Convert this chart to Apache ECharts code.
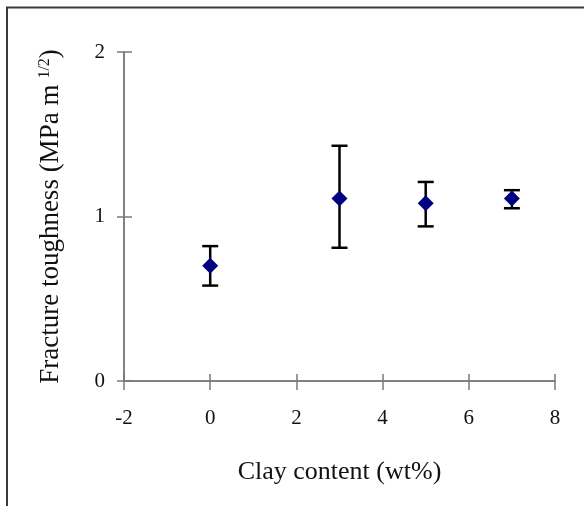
<!DOCTYPE html>
<html>
<head>
<meta charset="utf-8">
<script src="https://cdn.jsdelivr.net/npm/echarts@6/dist/echarts.min.js"></script>
<style>
  html, body { margin: 0; padding: 0; background: #fff; }
  #chart { width: 584px; height: 506px; }
</style>
</head>
<body>
<div id="chart"></div>
<script>
// clay content (wt%) and fracture toughness (MPa m^1/2)
const clay = [0, 3, 5, 7];
const toughness = [0.70, 1.11, 1.08, 1.11];
const errLow = [0.58, 0.81, 0.94, 1.05];
const errHigh = [0.82, 1.43, 1.21, 1.16];

const font = "'Liberation Serif', 'Times New Roman', serif";
const axisGray = "#7a7a7a";

const chart = echarts.init(document.getElementById("chart"));

// ticks cross the axis line, so each axis is drawn twice
// (outside ticks + labels, then inside ticks only)
const xBase = {
  type: "value",
  min: -2,
  max: 8,
  interval: 2,
  position: "bottom",
  splitLine: { show: false },
  axisLine: { onZero: false, lineStyle: { color: axisGray, width: 1.5 } },
};
const yBase = {
  type: "value",
  min: 0,
  max: 2,
  interval: 1,
  position: "left",
  splitLine: { show: false },
  axisLine: { onZero: false, lineStyle: { color: axisGray, width: 1.5 } },
};

let option = {
  animation: false,
  backgroundColor: "#fff",
  grid: { left: 124, right: 29, top: 52, bottom: 125 },
  graphic: [
    {
      type: "rect",
      shape: { x: 7, y: 7.5, width: 700, height: 700 },
      style: { fill: "none", stroke: "#3a3a3a", lineWidth: 2 },
      silent: true,
    },
  ],
  xAxis: [
    {
      ...xBase,
      name: "Clay content (wt%)",
      nameLocation: "middle",
      nameGap: 78,
      nameTextStyle: { fontFamily: font, fontSize: 26, color: "#111" },
      axisTick: { inside: false, length: 9, lineStyle: { color: axisGray, width: 1.5 } },
      axisLabel: { margin: 27, fontFamily: font, fontSize: 21, color: "#111" },
    },
    {
      ...xBase,
      axisTick: { inside: true, length: 7, lineStyle: { color: axisGray, width: 1.5 } },
      axisLabel: { show: false },
    },
  ],
  yAxis: [
    {
      ...yBase,
      name: "Fracture toughness (MPa m{sup|1/2})",
      nameLocation: "middle",
      nameRotate: 90,
      nameGap: 60,
      nameTextStyle: {
        fontFamily: font,
        fontSize: 27,
        color: "#111",
        rich: {
          sup: { fontFamily: font, fontSize: 16, color: "#111", verticalAlign: "top", padding: [0, 0, 10, 6] },
        },
      },
      axisTick: { inside: false, length: 7, lineStyle: { color: axisGray, width: 1.5 } },
      axisLabel: { margin: 19, fontFamily: font, fontSize: 21, color: "#111" },
    },
    {
      ...yBase,
      axisTick: { inside: true, length: 8, lineStyle: { color: axisGray, width: 1.5 } },
      axisLabel: { show: false },
    },
  ],
  series: [
    {
      // error bars
      type: "custom",
      z: 2,
      data: clay.map((c, i) => [c, errLow[i], errHigh[i]]),
      renderItem: function (params, api) {
        const lo = api.coord([api.value(0), api.value(1)]);
        const hi = api.coord([api.value(0), api.value(2)]);
        const cap = 8;
        const st = { stroke: "#000", lineWidth: 2.5 };
        return {
          type: "group",
          children: [
            { type: "line", shape: { x1: lo[0], y1: lo[1], x2: hi[0], y2: hi[1] }, style: st },
            { type: "line", shape: { x1: lo[0] - cap, y1: lo[1], x2: lo[0] + cap, y2: lo[1] }, style: st },
            { type: "line", shape: { x1: hi[0] - cap, y1: hi[1], x2: hi[0] + cap, y2: hi[1] }, style: st },
          ],
        };
      },
    },
    {
      type: "scatter",
      z: 3,
      symbol: "diamond",
      symbolSize: [16, 16],
      itemStyle: { color: "#000080", opacity: 1 },
      data: clay.map((c, i) => [c, toughness[i]]),
    },
  ],
};

chart.setOption(option);
</script>
</body>
</html>
